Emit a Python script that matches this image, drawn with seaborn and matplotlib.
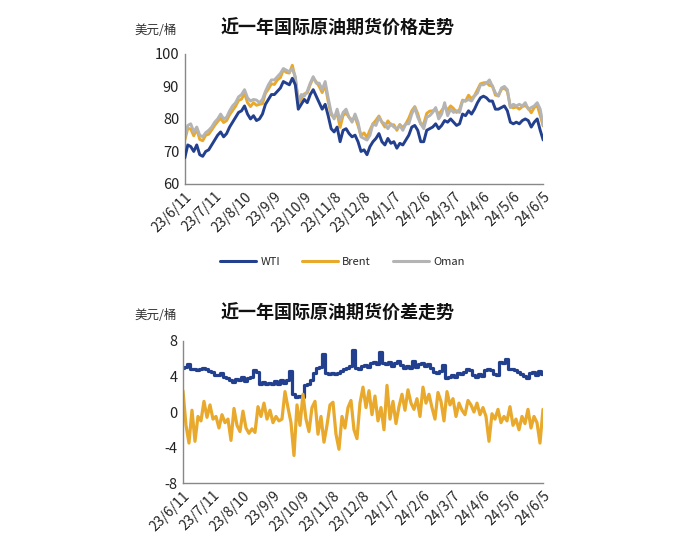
import numpy as np
import pandas as pd
import matplotlib
matplotlib.use("Agg")
import matplotlib.pyplot as plt
import seaborn as sns

sns.set_theme(style="white")
plt.rcParams['font.family'] = ['Noto Sans CJK SC', 'DejaVu Sans']
plt.rcParams['axes.unicode_minus'] = False

# dates: one point every 3 days, 23/6/11 .. 24/6/5
dates = pd.date_range('2023-06-11', '2024-06-05', freq='3D')
tick_dates = pd.date_range('2023-06-11', periods=13, freq='30D')
tick_labels = ['23/6/11', '23/7/11', '23/8/10', '23/9/9', '23/10/9', '23/11/8', '23/12/8',
               '24/1/7', '24/2/6', '24/3/7', '24/4/6', '24/5/6', '24/6/5']

# price, USD/bbl
wti = [68, 72, 71.5, 70, 72, 69, 68.5, 70, 70.5, 72,
       73.5, 75, 76, 74.5, 75.5, 77.5, 79, 80.5, 82, 82.5,
       84, 81.5, 80, 81, 79.5, 80, 81.5, 84.5, 86, 87.5,
       87.5, 88.5, 89.5, 91.5, 91, 90.5, 92.5, 90.5, 83, 84.5,
       86, 85, 87.5, 89, 87, 85, 83, 84.5, 81, 77,
       76, 77.5, 73, 76.5, 77, 75.5, 74.5, 75, 73, 70,
       70.5, 69, 71.5, 73, 74, 75.5, 73, 72, 74, 72.5,
       73, 71, 72.5, 72, 73.5, 75, 77.5, 78, 76.5, 73,
       73, 76.5, 77, 77.5, 78.5, 77, 78, 79.5, 79, 80,
       79, 78, 78.5, 81.5, 81, 82.5, 81.5, 83, 85, 86.5,
       87, 86.5, 85.5, 85.5, 83, 83, 83.5, 84, 82.5, 79,
       78.5, 79, 78.5, 79.5, 80, 79.5, 77.5, 79, 80, 76.5,
       73.5]
brent = [73.5, 77.1, 76.9, 74.8, 76.9, 73.7, 73.3, 75.0, 75.3, 76.6,
         78.0, 79.2, 80.2, 78.9, 79.5, 81.3, 82.6, 83.9, 85.7, 86.1,
         87.9, 85.0, 83.8, 85.0, 84.2, 84.5, 84.7, 87.9, 89.2, 90.8,
         90.6, 92.0, 92.7, 95.1, 94.3, 94.1, 96.5, 92.5, 84.7, 86.3,
         87.7, 88.0, 90.6, 92.6, 91.4, 90.0, 88.1, 90.5, 85.4, 81.3,
         80.4, 81.8, 77.4, 81.1, 81.8, 80.5, 79.7, 80.5, 78.0, 74.8,
         75.7, 74.3, 76.6, 78.5, 79.6, 80.9, 79.0, 77.5, 79.4, 78.1,
         78.2, 76.5, 78.3, 77.3, 78.5, 80.2, 82.5, 83.8, 81.6, 78.4,
         78.5, 81.7, 82.4, 82.5, 83.0, 81.4, 82.6, 83.8, 82.8, 84.0,
         83.2, 82.0, 82.9, 85.8, 85.5, 87.3, 86.2, 87.2, 89.0, 90.8,
         91.1, 91.2, 90.3, 90.2, 87.3, 87.2, 89.1, 89.5, 88.5, 83.8,
         83.4, 83.7, 83.0, 83.8, 84.1, 83.3, 81.9, 83.5, 84.2, 81.1,
         77.8]
oman = [74.5, 78.0, 78.5, 76.0, 77.5, 75.0, 74.5, 75.8, 76.5, 77.5,
        79.0, 80.0, 81.5, 80.0, 80.5, 82.5, 84.0, 85.0, 86.8, 87.5,
        89.0, 86.5, 85.5, 86.0, 85.8, 85.0, 86.0, 88.5, 90.5, 92.0,
        92.0, 93.0, 94.0, 95.5, 95.0, 94.5, 95.5, 93.0, 85.5, 87.5,
        87.0, 88.5, 91.0, 93.0, 91.0, 91.0, 89.0, 91.5, 86.5, 82.0,
        80.0, 83.0, 79.5, 82.0, 83.0, 80.5, 79.0, 81.5, 79.0, 74.5,
        74.0, 73.5, 75.0, 78.5, 78.0, 80.5, 79.0, 78.5, 77.0, 78.5,
        77.5, 77.0, 78.0, 76.5, 78.5, 78.5, 81.5, 83.5, 80.5, 78.5,
        77.0, 80.5, 81.0, 82.0, 83.5, 80.0, 81.5, 85.0, 81.0, 83.0,
        82.0, 82.5, 82.0, 85.5, 85.5, 86.0, 85.5, 87.0, 88.0, 90.5,
        90.5, 91.0, 92.0, 90.0, 88.0, 87.0, 89.5, 90.0, 89.0, 83.5,
        84.5, 84.0, 84.5, 84.0, 85.0, 83.0, 83.5, 84.0, 85.0, 83.0,
        78.0]

# spreads, USD/bbl
spread_brent_wti = [5.0, 5.1, 5.4, 4.8, 4.9, 4.7, 4.8, 5.0, 4.8, 4.6,
                    4.5, 4.2, 4.2, 4.4, 4.0, 3.8, 3.6, 3.4, 3.7, 3.6,
                    3.9, 3.5, 3.8, 4.0, 4.7, 4.5, 3.2, 3.4, 3.2, 3.3,
                    3.1, 3.5, 3.2, 3.6, 3.3, 3.6, 4.6, 2.0, 1.7, 1.8,
                    1.7, 3.0, 3.1, 3.6, 4.4, 5.0, 5.1, 6.5, 4.4, 4.3,
                    4.4, 4.3, 4.4, 4.6, 4.8, 5.0, 5.2, 7.0, 5.0, 4.8,
                    5.2, 5.3, 5.1, 5.5, 5.6, 5.4, 6.8, 5.5, 5.4, 5.6,
                    5.2, 5.5, 5.8, 5.3, 5.0, 5.2, 5.0, 5.8, 5.1, 5.4,
                    5.5, 5.2, 5.4, 5.0, 4.5, 4.4, 4.6, 5.3, 3.8, 4.0,
                    4.2, 4.0, 4.4, 4.3, 4.5, 4.8, 4.7, 4.2, 4.0, 4.3,
                    4.1, 4.7, 4.8, 4.7, 4.3, 4.2, 5.6, 5.5, 6.0, 4.8,
                    4.9, 4.7, 4.5, 4.3, 4.1, 3.8, 4.4, 4.5, 4.2, 4.6,
                    4.3]
spread_brent_oman = [2.4, -1.5, -3.5, 0.2, -3.3, -0.5, -1.0, 1.2, -0.6, 0.8,
                     -0.8, -0.5, -1.8, -0.3, -1.2, -0.8, -3.2, 0.4, -1.5, -2.2,
                     0.1, -1.8, -2.4, -1.9, -2.3, 0.6, -0.5, 1.0, -0.8, 0.2,
                     -1.2, -0.5, -1.0, -0.8, 2.3, 0.5, -1.2, -4.9, 0.8, -1.5,
                     2.0, -0.8, -2.2, 0.5, 1.2, -2.5, -0.5, -3.4, -1.5, 0.8,
                     1.1, -2.5, -4.2, -0.5, -1.8, 0.5, 1.3, -2.0, -3.0, 1.0,
                     2.8, 0.5, 2.4, -0.3, 1.8, -1.0, 0.5, -2.0, 3.0, -0.8,
                     1.2, -1.3, 0.6, 2.0, 0.2, 2.5, 1.0, 0.3, 1.5, -0.5,
                     2.8, 1.0, 2.0, 0.5, -0.8, 2.2, 1.2, -1.0, 2.3, 0.8,
                     1.5, -0.5, 1.0, 0.2, -0.3, 1.3, 0.8, 0.0, 1.0, -0.3,
                     0.5, -0.5, -3.3, -0.2, -0.8, 0.3, -1.2, -0.5, -1.0, 0.6,
                     -1.5, -0.8, -2.0, -0.5, -1.3, 0.3, -1.8, -0.5, -1.2, -3.5,
                     0.3]

blue = '#23408e'
gold = '#e8a92c'
grey = '#b4b4b4'

price_df = pd.DataFrame({'date': dates, 'WTI': wti, 'Brent': brent, 'Oman': oman})
price_df = price_df.melt(id_vars='date', var_name='series', value_name='value')
spread_df = pd.DataFrame({'date': dates, 'Brent-WTI': spread_brent_wti,
                          'Brent-Oman': spread_brent_oman})
spread_df = spread_df.melt(id_vars='date', var_name='series', value_name='value')

fig = plt.figure(figsize=(7, 5.5), dpi=100)
ax1 = fig.add_axes([0.264, 0.6655, 0.512, 0.2365])
ax2 = fig.add_axes([0.2614, 0.1218, 0.5143, 0.2582])

sns.lineplot(data=price_df, x='date', y='value', hue='series',
             palette={'WTI': blue, 'Brent': gold, 'Oman': grey},
             hue_order=['WTI', 'Brent', 'Oman'], linewidth=2.1, ax=ax1)
sns.lineplot(data=spread_df, x='date', y='value', hue='series',
             palette={'Brent-WTI': blue, 'Brent-Oman': gold},
             linewidth=2.3, legend=False, ax=ax2)

# WTI on top of the others
for line in ax1.get_lines():
    if line.get_color() == blue:
        line.set_zorder(5)
# Brent-WTI spread moves in steps
for line in ax2.get_lines():
    if line.get_color() == blue:
        line.set_drawstyle('steps-mid')

for ax, lo, hi, step in [(ax1, 60, 100, 10), (ax2, -8, 8, 4)]:
    ax.set_xlim(tick_dates[0], tick_dates[-1])
    ax.set_ylim(lo, hi)
    ax.set_yticks(np.arange(lo, hi + 1, step))
    ax.set_xticks(tick_dates)
    ax.set_xticklabels(tick_labels, rotation=45, ha='right', rotation_mode='anchor')
    ax.set_xlabel('')
    ax.set_ylabel('')
    ax.tick_params(axis='both', direction='in', length=4, width=0.8, color='#777777',
                   labelcolor='#222222', pad=4)
    ax.tick_params(axis='x', labelsize=10)
    ax.tick_params(axis='y', labelsize=10.5)
    for s in ['top', 'right']:
        ax.spines[s].set_visible(False)
    for s in ['left', 'bottom']:
        ax.spines[s].set_color('#888888')
        ax.spines[s].set_linewidth(1.0)

sns.move_legend(ax1, 'center', bbox_to_anchor=(0.44, -0.6), ncol=3, frameon=False,
                title=None, fontsize=8, handlelength=3.2, columnspacing=2.0,
                handletextpad=0.4)
for line in ax1.get_legend().get_lines():
    line.set_linewidth(2.2)

fig.text(0.222, 0.945, '美元/桶', fontsize=9, color='#333333', ha='center', va='center')
fig.text(0.482, 0.949, '近一年国际原油期货价格走势', fontsize=13, fontweight='bold',
         ha='center', va='center', color='#111111')
fig.text(0.222, 0.427, '美元/桶', fontsize=9, color='#333333', ha='center', va='center')
fig.text(0.482, 0.431, '近一年国际原油期货价差走势', fontsize=13, fontweight='bold',
         ha='center', va='center', color='#111111')

fig.savefig('out.png', dpi=100, facecolor='white')
